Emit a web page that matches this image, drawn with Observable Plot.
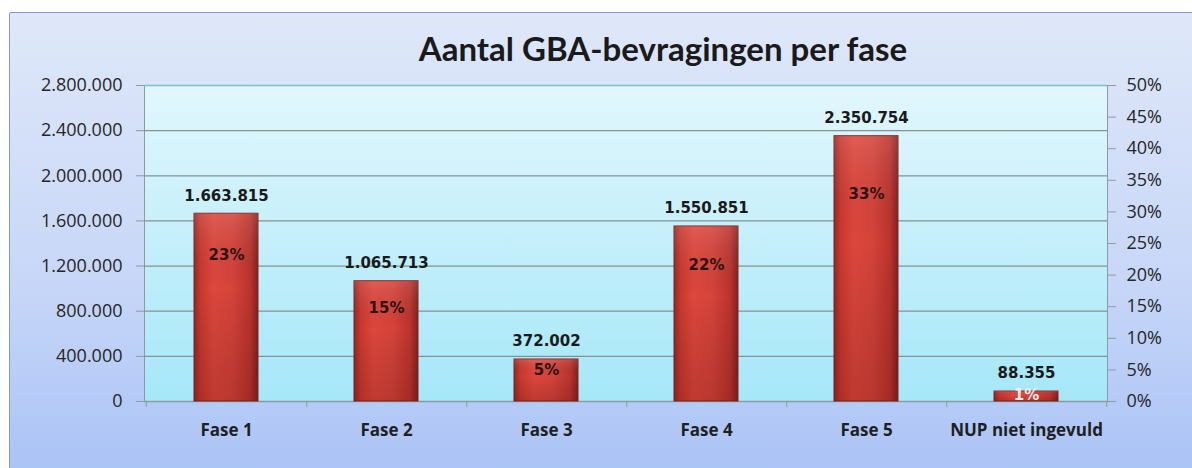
<!DOCTYPE html>
<html>
<head>
<meta charset="utf-8">
<script src="https://cdn.jsdelivr.net/npm/d3@7"></script>
<script src="https://cdn.jsdelivr.net/npm/@observablehq/plot@0.6"></script>
<style>
  html, body { margin: 0; padding: 0; background: #ffffff; width: 1192px; height: 468px; overflow: hidden; }
  #box {
    position: absolute; left: 9px; top: 12px; width: 1200px; height: 480px;
    border: 1.5px solid #7f9cc0; border-radius: 2px;
    background: linear-gradient(to bottom, #dfe8f9 0%, #c8d7f8 55%, #a7c1f6 100%);
  }
  #title {
    position: absolute; left: 363px; width: 600px; top: 28px; text-align: center;
    font-family: Lato, "Open Sans", sans-serif; font-weight: bold; font-size: 33px; color: #1a1a1a;
    white-space: nowrap;
  }
  #chart { position: absolute; left: 0; top: 60px; }
</style>
</head>
<body>
<div id="box"></div>
<div id="title">Aantal GBA-bevragingen per fase</div>
<div id="chart"></div>
<script>
const categories = ["Fase 1", "Fase 2", "Fase 3", "Fase 4", "Fase 5", "NUP niet ingevuld"];
const values = [1663815, 1065713, 372002, 1550851, 2350754, 88355];
const leftTicks = [0, 400000, 800000, 1200000, 1600000, 2000000, 2400000, 2800000];
const rightTicks = [0, 5, 10, 15, 20, 25, 30, 35, 40, 45, 50];

const yMax = 2800000;
const pctMax = 50;
const total = d3.sum(values);
const data = categories.map((c, i) => ({cat: c, value: values[i], pct: values[i] / total * 100}));

const nl = d3.formatLocale({decimal: ",", thousands: ".", grouping: [3], currency: ["", ""]});
const fmt = nl.format(",");

const W = 1192, H = 408;
const mL = 144, mR = 85, mT = 25, mB = 67;
const step = (W - mL - mR) / categories.length;

const svg = Plot.plot({
  width: W, height: H,
  marginLeft: mL, marginRight: mR, marginTop: mT, marginBottom: mB,
  style: {background: "transparent", overflow: "visible"},
  x: {domain: categories, paddingInner: 0.6, paddingOuter: 0.3, label: null},
  y: {domain: [0, yMax], label: null},
  marks: [
    Plot.frame({fill: "url(#plotBg)", stroke: "#8e9a9c"}),
    Plot.ruleY(leftTicks.filter(d => d > 0 && d < yMax), {stroke: "#86928f", strokeWidth: 1.2}),
    Plot.ruleY([yMax], {stroke: "#7fbccc", strokeWidth: 1.5}),
    Plot.ruleY([0], {stroke: "#8e9a9c", strokeWidth: 1.5}),
    Plot.barY(data, {x: "cat", y: "value", fill: "url(#barGrad)", stroke: "#7d2520", strokeWidth: 1}),
    Plot.barY(data, {x: "cat", y: "value", fill: "url(#barShade)"}),
    Plot.ruleX(categories, {x: d => d, y1: 0, y2: 0, insetBottom: -6, dx: step / 2, stroke: "#8e9a9c"}),
    Plot.ruleX(categories.slice(0, 1), {x: d => d, y1: 0, y2: 0, insetBottom: -6, dx: -step / 2, stroke: "#8e9a9c"}),
    Plot.axisY({anchor: "left", ticks: leftTicks, tickFormat: fmt, tickSize: 8, tickPadding: 14,
      fontSize: 18, fontFamily: "Open Sans", fill: "#262626", stroke: "#8e9a9c", label: null}),
    Plot.axisY({anchor: "right", ticks: rightTicks.map(p => p / pctMax * yMax),
      tickFormat: d => Math.round(d / yMax * pctMax) + "%", tickSize: 8, tickPadding: 11,
      fontSize: 18, fontFamily: "Open Sans", fill: "#262626", stroke: "#8e9a9c", label: null}),
    Plot.axisX({tickSize: 0, tickPadding: 22, fontSize: 17, fontFamily: "Open Sans", fontWeight: "bold",
      fill: "#1f1f1f", label: null}),
    Plot.text(data, {x: "cat", y: "value", text: d => fmt(d.value), dy: -18,
      fontFamily: "DejaVu Sans", fontWeight: "bold", fontSize: 15, fill: "#1a1a1a"}),
    Plot.text(data, {x: "cat", y: d => d.pct / pctMax * yMax, text: d => Math.round(d.pct) + "%", dy: 2,
      fontFamily: "DejaVu Sans", fontWeight: "bold", fontSize: 15,
      fill: d => d.pct < 3 ? "#fbeaea" : "#2a1414"})
  ]
});

const defs = d3.select(svg).insert("defs", ":first-child");
const bg = defs.append("linearGradient").attr("id", "plotBg").attr("x1", 0).attr("y1", 0).attr("x2", 0).attr("y2", 1);
bg.append("stop").attr("offset", "0%").attr("stop-color", "#e2f7fd");
bg.append("stop").attr("offset", "100%").attr("stop-color", "#a5e7f8");
const bar = defs.append("linearGradient").attr("id", "barGrad").attr("x1", 0).attr("y1", 0).attr("x2", 1).attr("y2", 0);
[["0%", "#9a2722"], ["10%", "#c8382f"], ["30%", "#dd463c"], ["60%", "#d5433a"], ["88%", "#b9342d"], ["100%", "#85211d"]]
  .forEach(([o, c]) => bar.append("stop").attr("offset", o).attr("stop-color", c));
const shade = defs.append("linearGradient").attr("id", "barShade").attr("x1", 0).attr("y1", 0).attr("x2", 0).attr("y2", 1);
[["0%", "rgba(255,255,255,0.12)", ], ["40%", "rgba(0,0,0,0)"], ["100%", "rgba(60,0,0,0.18)"]]
  .forEach(([o, c]) => shade.append("stop").attr("offset", o).attr("stop-color", c));

document.getElementById("chart").appendChild(svg);
</script>
</body>
</html>
